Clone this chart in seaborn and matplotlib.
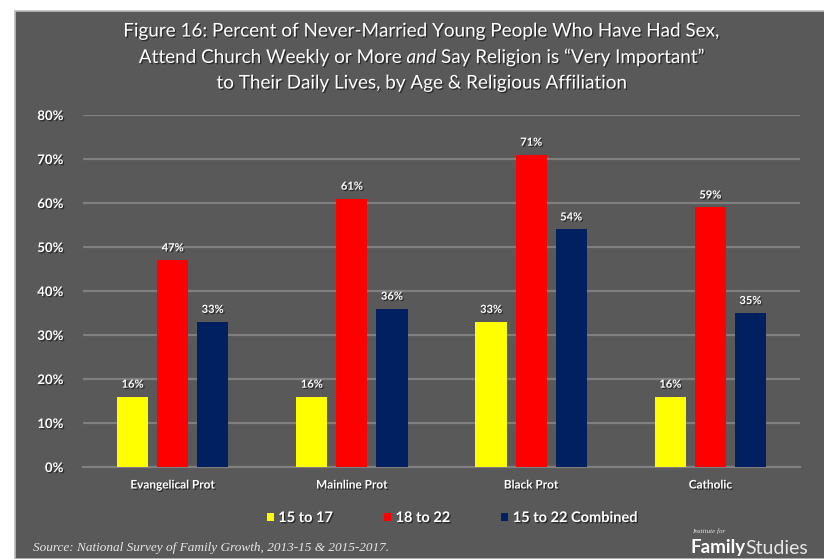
"""Figure 16 recreation: never-married young people who have had sex, by age and affiliation."""

import matplotlib
matplotlib.use("Agg")
import matplotlib.pyplot as plt
import matplotlib.patheffects as pe
from matplotlib.patches import Rectangle
import pandas as pd
import seaborn as sns

# Data
affiliations = ["Evangelical Prot", "Mainline Prot", "Black Prot", "Catholic"]
age_groups = ["15 to 17", "18 to 22", "15 to 22 Combined"]
age_15_17 = [16, 16, 33, 16]
age_18_22 = [47, 61, 71, 59]
age_combined = [33, 36, 54, 35]
y_ticks = [0, 10, 20, 30, 40, 50, 60, 70, 80]

colors = ["#FFFF00", "#FF0000", "#002060"]
panel = "#595959"

df = pd.DataFrame({
    "affiliation": affiliations * 3,
    "age": [g for g in age_groups for _ in affiliations],
    "pct": age_15_17 + age_18_22 + age_combined,
})

sns.set_style("white")
plt.rcParams["font.family"] = ["Lato", "DejaVu Sans"]
plt.rcParams["mathtext.fontset"] = "custom"
plt.rcParams["mathtext.rm"] = "Lato"
plt.rcParams["mathtext.it"] = "Lato:italic"

W, H = 824, 559
fig = plt.figure(figsize=(W / 100, H / 100), dpi=100)
fig.patch.set_facecolor("white")
fig.add_artist(Rectangle((15 / W, 0), 1, (H - 11) / H, transform=fig.transFigure,
                         facecolor=panel, edgecolor="#bdbdbd", lw=1.2, zorder=-1))

ax = fig.add_axes([83 / W, (H - 467) / H, (800 - 83) / W, (467 - 115) / H])
ax.set_facecolor(panel)

sns.barplot(data=df, x="affiliation", y="pct", hue="age", order=affiliations,
            hue_order=age_groups, palette=colors, width=0.67, gap=0.22,
            saturation=1, errorbar=None, linewidth=0, edgecolor="none",
            ax=ax, zorder=3)

shadow = [pe.withSimplePatchShadow(offset=(1, -1), shadow_rgbFace="black", alpha=0.5)]

for container in ax.containers:
    labels = [f"{v:.0f}%" for v in container.datavalues]
    ax.bar_label(container, labels=labels, padding=5, color="white", fontsize=8,
                 fontweight="bold", path_effects=shadow)

ax.set_ylim(0, 80)
ax.set_xlim(-0.5, 3.5)
ax.set_yticks(y_ticks)
ax.set_yticklabels([f"{t}%" for t in y_ticks])
ax.grid(axis="y", color="#7f7f7f", lw=1.6, zorder=0)
ax.set_axisbelow(True)
for s in ax.spines.values():
    s.set_visible(False)
ax.spines["bottom"].set_visible(True)
ax.spines["bottom"].set_color("#7f7f7f")
ax.spines["bottom"].set_linewidth(1.6)
ax.set_xlabel("")
ax.set_ylabel("")
ax.tick_params(axis="y", length=0, pad=14, labelsize=9.5, labelcolor="white")
ax.tick_params(axis="x", length=0, pad=9, labelsize=8.5, labelcolor="white")
for lab in ax.get_xticklabels() + ax.get_yticklabels():
    lab.set_fontweight("bold")
    lab.set_path_effects(shadow)

# legend below the axis
handles, labels = ax.get_legend_handles_labels()
ax.get_legend().remove()
leg = fig.legend(handles, labels, loc="center", bbox_to_anchor=(452 / W, (H - 518) / H),
                 ncol=3, frameon=False, handlelength=0.5, handleheight=0.5,
                 handletextpad=0.3, columnspacing=3.5, prop={"size": 10.5, "weight": "bold"})
for t in leg.get_texts():
    t.set_color("white")
    t.set_path_effects(shadow)

# title
title_lines = [
    "Figure 16: Percent of Never-Married Young People Who Have Had Sex,",
    r"Attend Church Weekly or More $\it{and}$ Say Religion is “Very Important”",
    "to Their Daily Lives, by Age & Religious Affiliation",
]
for i, line in enumerate(title_lines):
    fig.text(422 / W, (H - 31 - i * 26) / H, line, ha="center", va="center",
             color="white", fontsize=13.6, path_effects=shadow)

# source and logo
fig.text(33 / W, (H - 548) / H, "Source: National Survey of Family Growth, 2013-15 & 2015-2017.",
         ha="left", va="center", color="#e6e6e6", fontsize=9.5, style="italic",
         family="Liberation Serif")
fig.text(692 / W, (H - 531) / H, "Institute for", ha="left", va="center",
         color="#e6e6e6", fontsize=5, style="italic", family="Liberation Serif")
fig.text(690 / W, (H - 548) / H, "Family", ha="left", va="center",
         color="white", fontsize=13.5, fontweight="bold")
fig.text(745 / W, (H - 548) / H, "Studies", ha="left", va="center",
         color="#e6e6e6", fontsize=14)

fig.savefig("out.png", dpi=100, facecolor=fig.get_facecolor())
